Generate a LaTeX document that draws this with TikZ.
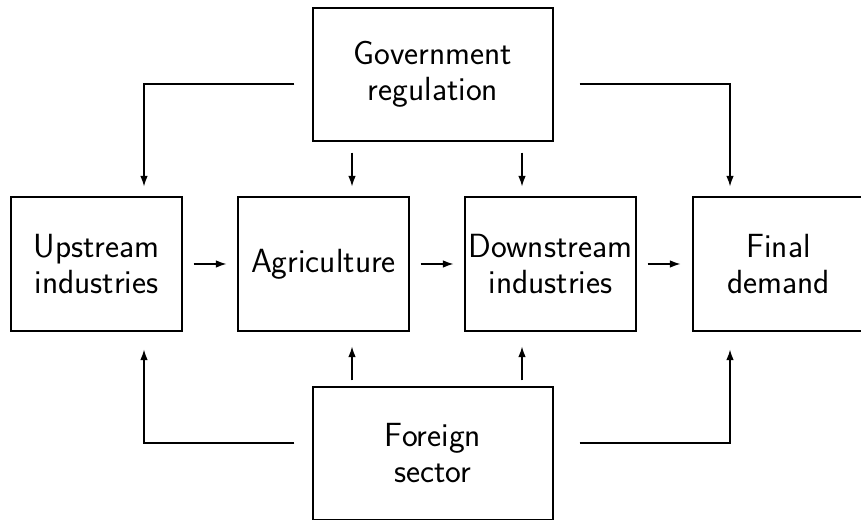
\documentclass[tikz,border=0pt]{standalone}
\usepackage{fontspec}
\usetikzlibrary{arrows.meta}
\begin{document}
\begin{tikzpicture}[x=1pt,y=1pt,
  box/.style={draw,line width=1.2pt,minimum width=171pt,minimum height=134pt,inner sep=0pt,align=center,
    font=\sffamily\fontsize{33.5}{36}\selectfont},
  bigbox/.style={box,minimum width=240pt,minimum height=133pt},
  arr/.style={line width=1.2pt,-{Latex[length=10.5pt,width=7.5pt]}}]
\useasboundingbox (0,0) rectangle (861,519);
% y = 519 - ypx
\node[box] (up) at (96.5,255) {Upstream\\industries};
\node[box] (agri) at (323.5,255) {Agriculture};
\node[box] (down) at (550.5,255) {Downstream\\industries};
\node[box] (fin) at (778.5,255) {Final\\demand};
\node[bigbox] (gov) at (433,444.5) {Government\\regulation};
\node[bigbox] (for) at (433,65.5) {Foreign\\sector};
% horizontal flow
\draw[arr,shorten <=11pt,shorten >=11pt] (up.east) -- (agri.west);
\draw[arr,shorten <=11pt,shorten >=11pt] (agri.east) -- (down.west);
\draw[arr,shorten <=11pt,shorten >=12pt] (down.east) -- (fin.west);
% government
\draw[arr,shorten <=18pt,shorten >=10pt] ([yshift=-9.5pt]gov.west) -| ([xshift=47.5pt]up.north);
\draw[arr,shorten <=26pt,shorten >=10pt] ([yshift=-9.5pt]gov.east) -| ([xshift=-48.5pt]fin.north);
\draw[arr,shorten <=11pt,shorten >=10pt] ([xshift=28.5pt]agri.north |- gov.south) -- ([xshift=28.5pt]agri.north);
\draw[arr,shorten <=11pt,shorten >=10pt] ([xshift=-28.5pt]down.north |- gov.south) -- ([xshift=-28.5pt]down.north);
% foreign
\draw[arr,shorten <=18pt,shorten >=18pt] ([yshift=10.5pt]for.west) -| ([xshift=47.5pt]up.south);
\draw[arr,shorten <=26pt,shorten >=18pt] ([yshift=10.5pt]for.east) -| ([xshift=-48.5pt]fin.south);
\draw[arr,shorten <=6pt,shorten >=15pt] ([xshift=28.5pt]agri.south |- for.north) -- ([xshift=28.5pt]agri.south);
\draw[arr,shorten <=6pt,shorten >=15pt] ([xshift=-28.5pt]down.south |- for.north) -- ([xshift=-28.5pt]down.south);
\end{tikzpicture}
\end{document}
